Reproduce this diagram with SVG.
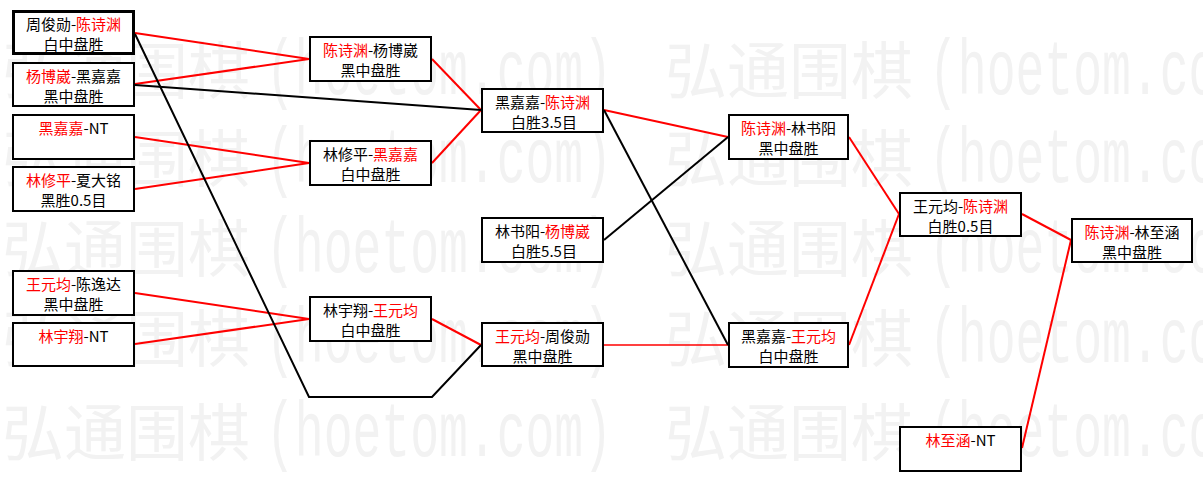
<svg xmlns="http://www.w3.org/2000/svg" xmlns:xlink="http://www.w3.org/1999/xlink" width="1203" height="481" viewBox="0 0 1203 481">
<style>
.wc{font-family:"Noto Sans CJK SC",sans-serif;font-size:62px;fill:#f2f2f2}
.wl{font-family:"Liberation Mono",monospace;font-size:78px;fill:#f2f2f2}
.box{fill:#fff;stroke:#000;stroke-width:2}
.t{font-family:"Noto Sans CJK SC","Noto Sans CJK JP",sans-serif;font-size:15px;fill:#000;text-anchor:middle}
.r{fill:#f00}
.cr{stroke:#f00;stroke-width:2;fill:none}
.cb{stroke:#000;stroke-width:2;fill:none}
</style>
<defs>
<g id="wmt"><text class="wc" x="0" y="0">弘通围棋</text><text class="wl" x="264" y="0" textLength="346" lengthAdjust="spacingAndGlyphs">(hoetom.com)</text></g>
</defs>
<rect x="0" y="0" width="1203" height="481" fill="#fff"/>
<g id="watermark">
<use xlink:href="#wmt" x="2" y="94"/><use xlink:href="#wmt" x="665" y="94"/>
<use xlink:href="#wmt" x="2" y="182"/><use xlink:href="#wmt" x="665" y="182"/>
<use xlink:href="#wmt" x="2" y="272"/><use xlink:href="#wmt" x="665" y="272"/>
<use xlink:href="#wmt" x="2" y="362"/><use xlink:href="#wmt" x="665" y="362"/>
<use xlink:href="#wmt" x="2" y="456"/><use xlink:href="#wmt" x="665" y="456"/>
</g>
<g id="connectors">
<line class="cr" x1="135" y1="33" x2="309" y2="59"/>
<line class="cr" x1="135" y1="84" x2="309" y2="59"/>
<line class="cr" x1="135" y1="137" x2="309" y2="163"/>
<line class="cr" x1="135" y1="189" x2="309" y2="163"/>
<line class="cr" x1="432" y1="59" x2="481" y2="110"/>
<line class="cr" x1="432" y1="163" x2="481" y2="110"/>
<line class="cr" x1="135" y1="293" x2="309" y2="319"/>
<line class="cr" x1="135" y1="344" x2="309" y2="319"/>
<line class="cr" x1="432" y1="319" x2="481" y2="345"/>
<line class="cr" x1="604" y1="110" x2="728" y2="137"/>
<line class="cr" x1="604" y1="345" x2="728" y2="345" style="stroke-width:1.5"/>
<line class="cr" x1="849" y1="137" x2="899" y2="214"/>
<line class="cr" x1="849" y1="345" x2="899" y2="214"/>
<line class="cr" x1="1022" y1="214" x2="1071" y2="240"/>
<line class="cr" x1="1022" y1="448" x2="1071" y2="240"/>
<line class="cb" x1="135" y1="85" x2="481" y2="110"/>
<polyline class="cb" points="135,34 309,397 432,397 481,345"/>
<line class="cb" x1="604" y1="110" x2="728" y2="345"/>
<line class="cb" x1="604" y1="240" x2="728" y2="137"/>
</g>
<g id="nA"><rect class="box" x="13.5" y="11.5" width="120" height="42" style="stroke-width:3"/><text class="t" x="73.5" y="30">周俊勋-<tspan class="r">陈诗渊</tspan></text><text class="t" x="73.5" y="50">白中盘胜</text></g>
<g id="nB"><rect class="box" x="13" y="63" width="121" height="43"/><text class="t" x="73.5" y="82"><tspan class="r">杨博崴</tspan>-黑嘉嘉</text><text class="t" x="73.5" y="102">黑中盘胜</text></g>
<g id="nC"><rect class="box" x="13" y="115" width="121" height="44"/><text class="t" x="73.5" y="134"><tspan class="r">黑嘉嘉</tspan>-NT</text></g>
<g id="nD"><rect class="box" x="13" y="167" width="121" height="44"/><text class="t" x="73.5" y="186"><tspan class="r">林修平</tspan>-夏大铭</text><text class="t" x="73.5" y="206">黑胜0.5目</text></g>
<g id="nE"><rect class="box" x="13" y="271" width="121" height="44"/><text class="t" x="73.5" y="290"><tspan class="r">王元均</tspan>-陈逸达</text><text class="t" x="73.5" y="310">黑中盘胜</text></g>
<g id="nF"><rect class="box" x="13" y="323" width="121" height="43"/><text class="t" x="73.5" y="342"><tspan class="r">林宇翔</tspan>-NT</text></g>
<g id="nG"><rect class="box" x="310" y="37" width="121" height="44"/><text class="t" x="370.5" y="56"><tspan class="r">陈诗渊</tspan>-杨博崴</text><text class="t" x="370.5" y="76">黑中盘胜</text></g>
<g id="nH"><rect class="box" x="482" y="89" width="121" height="43"/><text class="t" x="542.5" y="108">黑嘉嘉-<tspan class="r">陈诗渊</tspan></text><text class="t" x="544" y="128">白胜3.5目</text></g>
<g id="nI"><rect class="box" x="310" y="141" width="121" height="44"/><text class="t" x="370.5" y="160">林修平-<tspan class="r">黑嘉嘉</tspan></text><text class="t" x="370.5" y="180">白中盘胜</text></g>
<g id="nJ"><rect class="box" x="482" y="218" width="121" height="44"/><text class="t" x="542.5" y="237">林书阳-<tspan class="r">杨博崴</tspan></text><text class="t" x="544" y="257">白胜5.5目</text></g>
<g id="nK"><rect class="box" x="310" y="297" width="121" height="44"/><text class="t" x="370.5" y="316">林宇翔-<tspan class="r">王元均</tspan></text><text class="t" x="370.5" y="336">白中盘胜</text></g>
<g id="nL"><rect class="box" x="482" y="323" width="121" height="43"/><text class="t" x="542.5" y="342"><tspan class="r">王元均</tspan>-周俊勋</text><text class="t" x="542.5" y="362">黑中盘胜</text></g>
<g id="nM"><rect class="box" x="729" y="115" width="119" height="44"/><text class="t" x="788.5" y="134"><tspan class="r">陈诗渊</tspan>-林书阳</text><text class="t" x="788.5" y="154">黑中盘胜</text></g>
<g id="nN"><rect class="box" x="729" y="323" width="119" height="44"/><text class="t" x="788.5" y="342">黑嘉嘉-<tspan class="r">王元均</tspan></text><text class="t" x="788.5" y="362">白中盘胜</text></g>
<g id="nO"><rect class="box" x="900" y="193" width="121" height="43"/><text class="t" x="960.5" y="212">王元均-<tspan class="r">陈诗渊</tspan></text><text class="t" x="960.5" y="232">白胜0.5目</text></g>
<g id="nP"><rect class="box" x="1072" y="219" width="120" height="43"/><text class="t" x="1132" y="238"><tspan class="r">陈诗渊</tspan>-林至涵</text><text class="t" x="1132" y="258">黑中盘胜</text></g>
<g id="nQ"><rect class="box" x="900" y="427" width="121" height="44"/><text class="t" x="960.5" y="446"><tspan class="r">林至涵</tspan>-NT</text></g>
</svg>
